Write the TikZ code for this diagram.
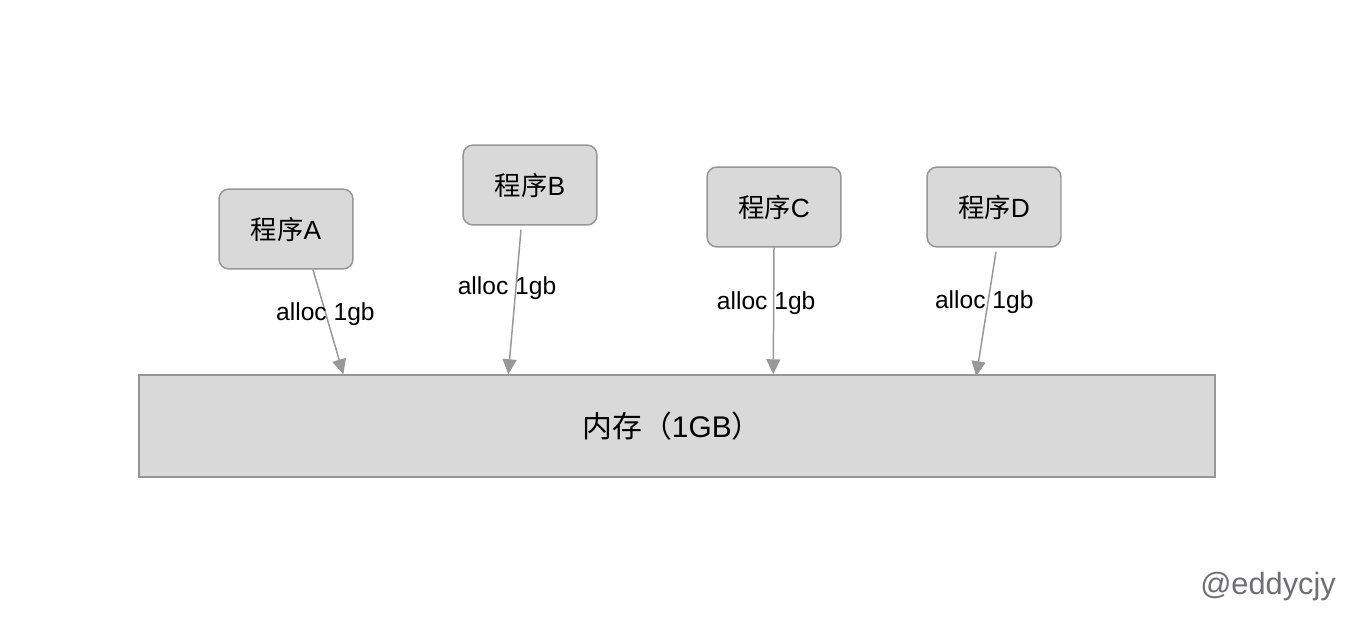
\documentclass[tikz,border=0pt]{standalone}
\usepackage{fontspec}
\setmainfont{Liberation Sans}
\newfontfamily\cjk{Noto Sans CJK SC}
\usetikzlibrary{arrows.meta}
\definecolor{boxfill}{RGB}{217,217,217}
\definecolor{boxline}{RGB}{150,150,150}
\definecolor{arrowgray}{RGB}{152,152,152}
\definecolor{signgray}{RGB}{110,110,115}

\begin{document}
\begin{tikzpicture}[x=0.02cm,y=-0.02cm,
        prog/.style={draw=boxline,line width=0.85pt,rounded corners=0.2cm,fill=boxfill,minimum width=2.68cm,minimum height=1.6cm,font=\fontsize{15}{18}\selectfont},
        memory/.style={draw=boxline,line width=0.85pt,fill=boxfill,minimum width=21.52cm,minimum height=2.04cm,font=\fontsize{17}{20}\selectfont},
        alloc/.style={draw=arrowgray,line width=0.85pt,-{Triangle[length=0.3cm,width=0.28cm]}},
        tag/.style={font=\fontsize{14}{17}\selectfont,inner sep=0pt}
      ]
        \useasboundingbox (0,0) rectangle (1356,622);

        \node[prog] (pa) at (286,229) {{\cjk 程序}A};
        \node[prog] (pb) at (530,185) {{\cjk 程序}B};
        \node[prog] (pc) at (774,207) {{\cjk 程序}C};
        \node[prog] (pd) at (994,207) {{\cjk 程序}D};
        \node[memory] (mem) at (677,426) {\hspace*{-0.2cm}{\cjk 内存（}1GB{\cjk ）}};

        \draw[alloc] ([xshift=0.54cm]pa.south) -- ([xshift=4.1cm]mem.north west)
          node[tag,pos=0.41,yshift=-0.04cm] {alloc 1gb};
        \draw[alloc] ([xshift=-0.18cm,yshift=-0.08cm]pb.south) -- ([xshift=7.4cm]mem.north west)
          node[tag,pos=0.39,xshift=-0.18cm,yshift=-0.04cm] {alloc 1gb};
        \draw[alloc] (pc.south) -- ([xshift=12.7cm]mem.north west)
          node[tag,pos=0.42,xshift=-0.15cm,yshift=-0.04cm] {alloc 1gb};
        \draw[alloc] ([xshift=0.04cm,yshift=-0.08cm]pd.south) -- ([xshift=16.76cm,yshift=-0.04cm]mem.north west)
          node[tag,pos=0.39,xshift=-0.08cm,yshift=-0.04cm] {alloc 1gb};

        \node[text=signgray,font=\fontsize{17.5}{21}\selectfont] (sign) at (1268,587) {@eddycjy};
      \end{tikzpicture}
\end{document}
